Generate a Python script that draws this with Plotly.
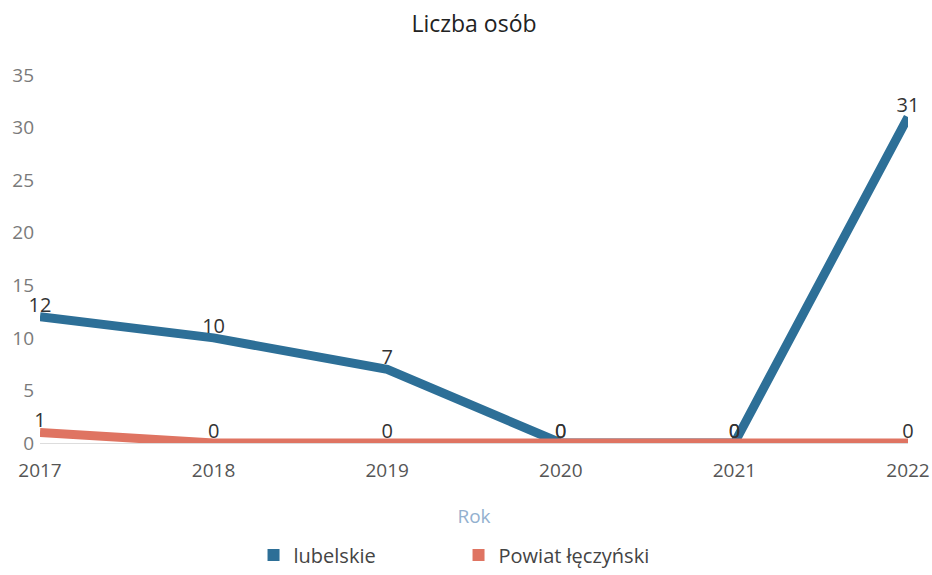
import plotly.graph_objects as go

years = ["2017", "2018", "2019", "2020", "2021", "2022"]
lubelskie = [12, 10, 7, 0, 0, 31]
powiat = [1, 0, 0, 0, 0, 0]
y_ticks = [0, 5, 10, 15, 20, 25, 30, 35]
series_names = ["lubelskie", "Powiat łęczyński"]

blue = "#2d6f97"
red = "#df7462"
font_family = "Open Sans"

fig = go.Figure()
for name, vals, col in [(series_names[0], lubelskie, blue), (series_names[1], powiat, red)]:
    fig.add_trace(go.Scatter(
        x=years, y=vals, name=name, mode="lines+text", showlegend=False,
        line=dict(color=col, width=9),
        text=[str(v) for v in vals], textposition="top center",
        textfont=dict(size=20, color="#333333", family=font_family),
        cliponaxis=False,
    ))
    # legend-only entry with a small rectangular swatch
    fig.add_trace(go.Scatter(
        x=[None], y=[None], name=name, mode="markers",
        marker=dict(symbol="square", size=12, color=col),
        showlegend=True,
    ))

fig.update_layout(
    width=932, height=575,
    paper_bgcolor="white", plot_bgcolor="white",
    font=dict(family=font_family, size=19, color="#555555"),
    title=dict(text="Liczba osób", x=0.5, xanchor="center", xref="paper",
               y=0.958, yanchor="middle", font=dict(size=23, color="#222222")),
    margin=dict(l=40, r=24, t=75, b=132),
    showlegend=True,
    legend=dict(orientation="h", x=0.246, xanchor="left",
                yref="container", y=0.035, yanchor="middle",
                font=dict(size=20, color="#444444"), entrywidth=160,
                traceorder="normal"),
    xaxis=dict(
        type="category", range=[0, 5], showgrid=False, zeroline=False,
        showline=False, ticks="", automargin=False, ticklabelstandoff=14,
        tickfont=dict(size=19, color="#555555"),
        title=dict(text="Rok", font=dict(size=19, color="#93b0cf"), standoff=27),
    ),
    yaxis=dict(
        range=[0, 35], tickvals=y_ticks, showgrid=False, zeroline=True,
        zerolinecolor="#dddddd", zerolinewidth=1, showline=False, ticks="",
        automargin=False, ticklabelstandoff=5,
        tickfont=dict(size=19, color="#7a7a7a"),
    ),
)

fig.write_html("out.html", config={"displayModeBar": False},
               post_script="document.body.style.margin='0';")
